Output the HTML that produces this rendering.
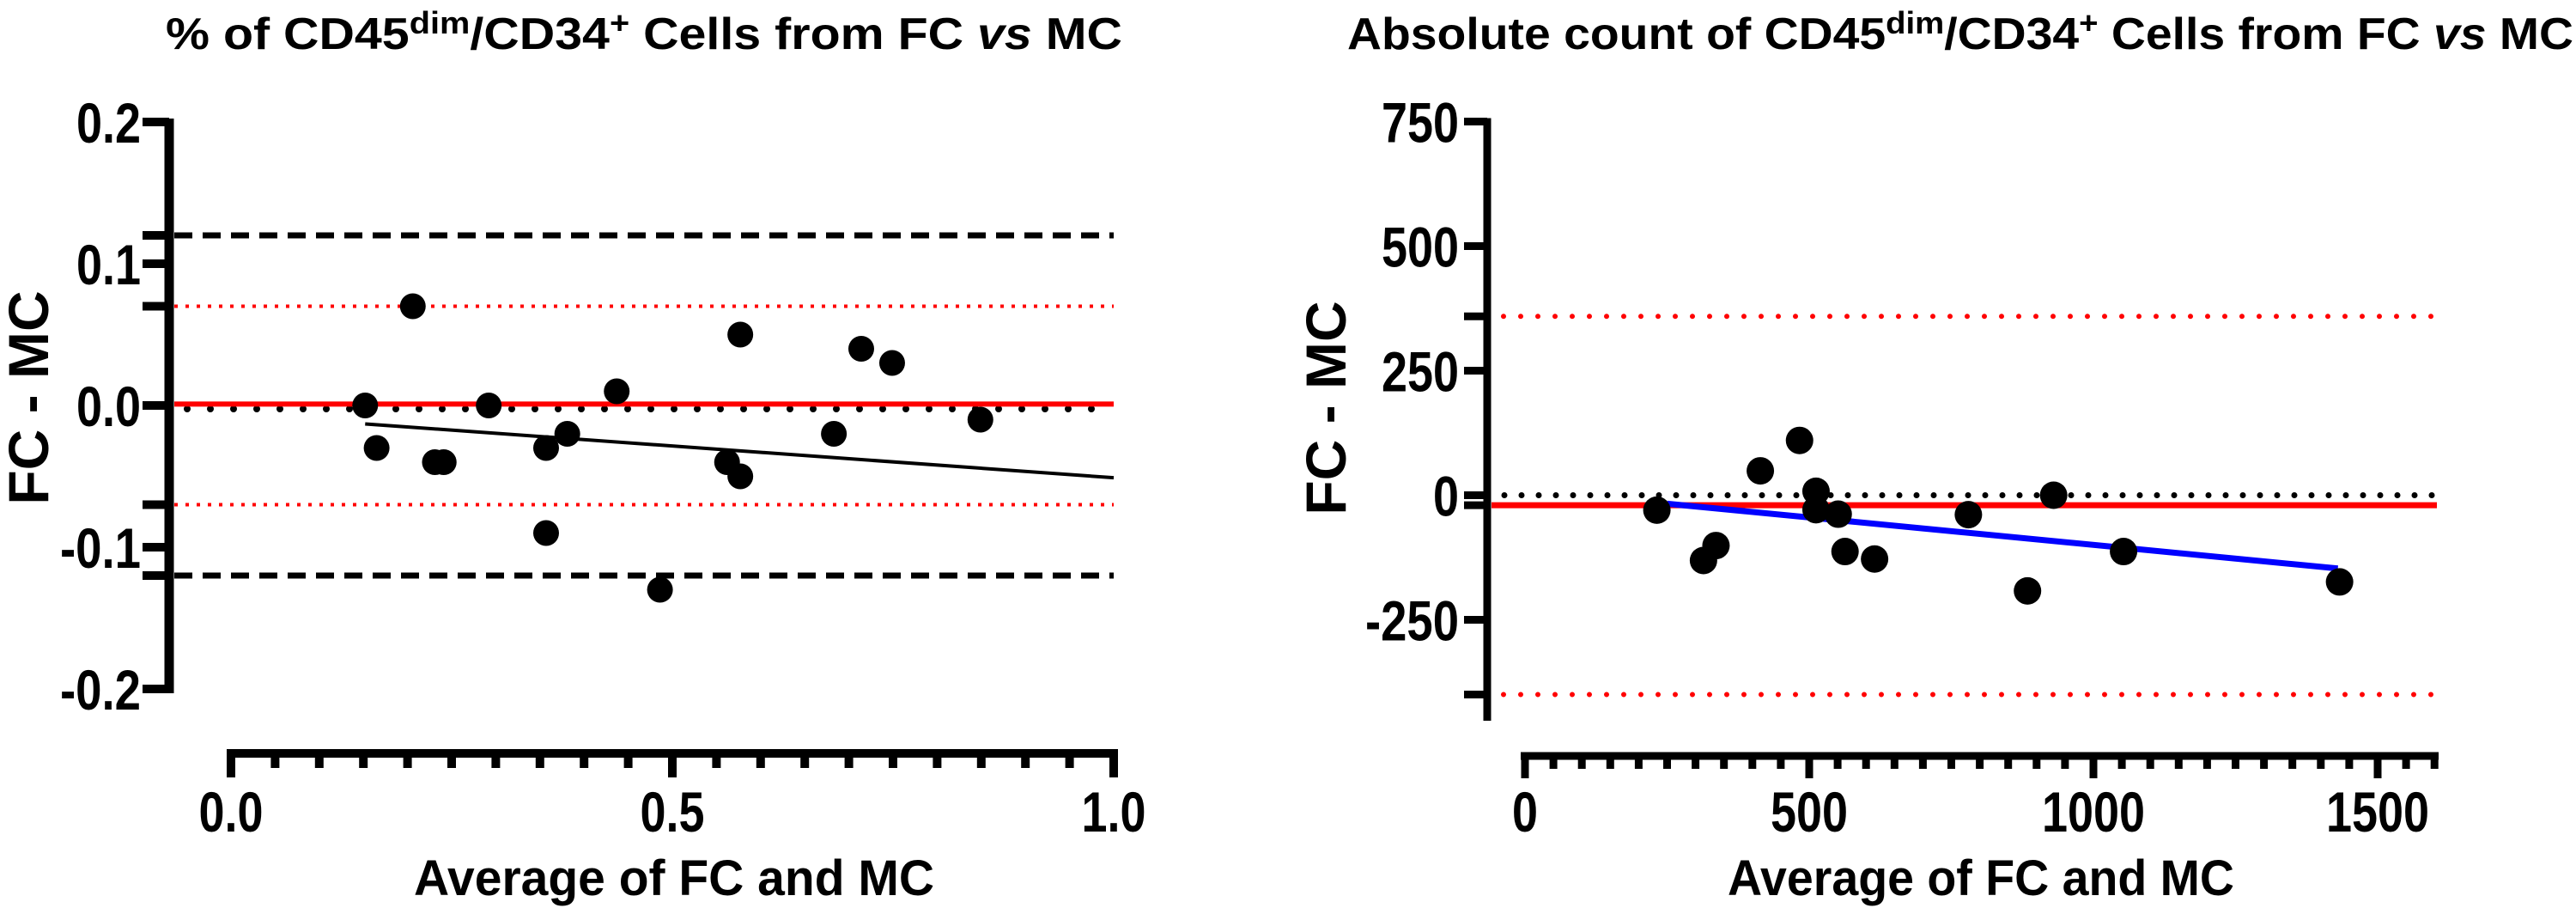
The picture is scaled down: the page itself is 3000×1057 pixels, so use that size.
<!DOCTYPE html>
<html><head><meta charset="utf-8"><style>
html,body{margin:0;padding:0;background:#fff;}
svg{display:block;font-family:"Liberation Sans",Arial,sans-serif;font-weight:bold;}
</style></head><body>
<svg id="svg" width="3000" height="1057" viewBox="0 0 3000 1057" xmlns="http://www.w3.org/2000/svg">
<text x="193" y="57" font-size="52" textLength="1114" lengthAdjust="spacingAndGlyphs">% of CD45<tspan dy="-18" font-size="36">dim</tspan><tspan dy="18">/CD34</tspan><tspan dy="-18" font-size="36">+</tspan><tspan dy="18"> Cells from FC </tspan><tspan font-style="italic">vs</tspan> MC</text>
<text x="1569" y="57" font-size="52" textLength="1428" lengthAdjust="spacingAndGlyphs">Absolute count of CD45<tspan dy="-18" font-size="36">dim</tspan><tspan dy="18">/CD34</tspan><tspan dy="-18" font-size="36">+</tspan><tspan dy="18"> Cells from FC </tspan><tspan font-style="italic">vs</tspan> MC</text>
<text x="785" y="1042" font-size="58" text-anchor="middle" textLength="606" lengthAdjust="spacingAndGlyphs">Average of FC and MC</text>
<text x="2307" y="1042" font-size="58" text-anchor="middle" textLength="590" lengthAdjust="spacingAndGlyphs">Average of FC and MC</text>
<text transform="translate(56,463) rotate(-90)" font-size="66" text-anchor="middle">FC - MC</text>
<text transform="translate(1567,475) rotate(-90)" font-size="66" text-anchor="middle">FC - MC</text>
<g id="left"></g>
<g id="right"></g>
</svg>
<script>
// Left chart data (% of cells)
const leftX = [0.152,0.165,0.206,0.231,0.241,0.292,0.357,0.357,0.381,0.437,0.486,0.562,0.577,0.577,0.683,0.714,0.749,0.849];
const leftY = [0,-0.03,0.07,-0.04,-0.04,0,-0.03,-0.09,-0.02,0.01,-0.13,-0.04,0.05,-0.05,-0.02,0.04,0.03,-0.01];
const leftBias = 0.001;
const leftLoA = [0.07,-0.07];
const leftOuter = [0.12,-0.12];
const leftReg = [[0.152,-0.013],[1.0,-0.051]];
const leftYTicks = [0.2,0.1,0,-0.1,-0.2];
const leftYTickLabels = ["0.2","0.1","0.0","-0.1","-0.2"];
const leftXTicks = [0,0.5,1.0];
const leftXTickLabels = ["0.0","0.5","1.0"];
// Right chart data (absolute count)
const rightX = [232,314,336,414,483,512,512,551,563,615,780,884,930,1053,1433];
const rightY = [-30,-131,-101,49,110,8,-29,-38,-113,-128,-39,-192,0,-113,-174];
const rightBias = -20;
const rightLoA = [359,-400];
const rightReg = [[250,-17],[1430,-147]];
const rightYTicks = [750,500,250,0,-250];
const rightYTickLabels = ["750","500","250","0","-250"];
const rightXTicks = [0,500,1000,1500];
const rightXTickLabels = ["0","500","1000","1500"];

const NS="http://www.w3.org/2000/svg";
function mk(parent,tag,attrs){const e=document.createElementNS(NS,tag);for(const k in attrs)e.setAttribute(k,attrs[k]);parent.appendChild(e);return e;}
function lw(s){let w=0;for(const c of s){w+= c==='.'?15:(c==='-'?19:30);}return w;}

// ---------- LEFT ----------
const L=document.getElementById('left');
const lx=v=>269+v*1028, ly=v=>472-v*1650;
let e;
e=mk(L,'line',{x1:197,y1:ly(0.2)-4,x2:197,y2:ly(-0.2)+5,stroke:'#000','stroke-width':11});


const lExtra=[0.12,0.07,-0.07,-0.12];
leftYTicks.concat(lExtra).forEach(v=>{const t=mk(L,'line',{x1:166,y1:ly(v),x2:197,y2:ly(v),stroke:'#000','stroke-width':10});

});
leftYTicks.forEach((v,i)=>{const s=leftYTickLabels[i];const t=mk(L,'text',{x:164,y:ly(v)+24,'font-size':66,'text-anchor':'end',textLength:lw(s),lengthAdjust:'spacingAndGlyphs'});t.textContent=s;

});
e=mk(L,'line',{x1:264,y1:877,x2:1302,y2:877,stroke:'#000','stroke-width':10});


for(let k=0;k<=20;k++){const v=k*0.05;const major=k%10===0;const t=mk(L,'line',{x1:lx(v),y1:877,x2:lx(v),y2:major?905:894,stroke:'#000','stroke-width':10});

}
leftXTicks.forEach((v,i)=>{const s=leftXTickLabels[i];const t=mk(L,'text',{x:lx(v),y:968,'font-size':66,'text-anchor':'middle',textLength:lw(s),lengthAdjust:'spacingAndGlyphs'});t.textContent=s;

});
const lx0=203, lx1=lx(1.0);
leftOuter.forEach(v=>{const t=mk(L,'line',{x1:lx0,y1:ly(v),x2:lx1,y2:ly(v),stroke:'#000','stroke-width':7,'stroke-dasharray':'21 12'});

});
leftLoA.forEach(v=>{const t=mk(L,'line',{x1:lx0,y1:ly(v),x2:lx1,y2:ly(v),stroke:'#f00','stroke-width':4,'stroke-dasharray':'4 9'});

});
e=mk(L,'line',{x1:lx0+15,y1:ly(0)+4,x2:lx1,y2:ly(0)+4,stroke:'#000','stroke-width':8,'stroke-dasharray':'0 27','stroke-linecap':'round'});


e=mk(L,'line',{x1:lx0,y1:ly(leftBias),x2:lx1,y2:ly(leftBias),stroke:'#f00','stroke-width':6});


e=mk(L,'line',{x1:lx(leftReg[0][0]),y1:ly(leftReg[0][1]),x2:lx(leftReg[1][0]),y2:ly(leftReg[1][1]),stroke:'#000','stroke-width':4});


leftX.forEach((v,i)=>{const c=mk(L,'circle',{cx:lx(v),cy:ly(leftY[i]),r:15,fill:'#000'});

});

// ---------- RIGHT ----------
const R=document.getElementById('right');
const rx=v=>1776+v*0.662, ry=v=>576.5-v*0.58;
e=mk(R,'line',{x1:1732,y1:ry(750)-4,x2:1732,y2:839,stroke:'#000','stroke-width':9});


const rExtra=[359,-20,-400];
rightYTicks.concat(rExtra).forEach(v=>{const t=mk(R,'line',{x1:1705,y1:ry(v),x2:1732,y2:ry(v),stroke:'#000','stroke-width':9});

});
rightYTicks.forEach((v,i)=>{const s=rightYTickLabels[i];const t=mk(R,'text',{x:1699,y:ry(v)+24,'font-size':66,'text-anchor':'end',textLength:lw(s),lengthAdjust:'spacingAndGlyphs'});t.textContent=s;

});
e=mk(R,'line',{x1:1771,y1:880,x2:2840,y2:880,stroke:'#000','stroke-width':9});


for(let k=0;k<=32;k++){const v=k*50;const major=k%10===0;const t=mk(R,'line',{x1:rx(v),y1:880,x2:rx(v),y2:major?906:895,stroke:'#000','stroke-width':9});

}
rightXTicks.forEach((v,i)=>{const s=rightXTickLabels[i];const t=mk(R,'text',{x:rx(v),y:968,'font-size':66,'text-anchor':'middle',textLength:lw(s),lengthAdjust:'spacingAndGlyphs'});t.textContent=s;

});
const rx0=1737, rx1=2838;
rightLoA.forEach(v=>{const t=mk(R,'line',{x1:rx0+14,y1:ry(v),x2:rx1,y2:ry(v),stroke:'#f00','stroke-width':6,'stroke-dasharray':'0 20','stroke-linecap':'round'});

});
e=mk(R,'line',{x1:rx0+15,y1:ry(0),x2:rx1,y2:ry(0),stroke:'#000','stroke-width':7,'stroke-dasharray':'0 20','stroke-linecap':'round'});


e=mk(R,'line',{x1:rx0,y1:ry(rightBias),x2:rx1,y2:ry(rightBias),stroke:'#f00','stroke-width':7});


e=mk(R,'line',{x1:rx(rightReg[0][0]),y1:ry(rightReg[0][1]),x2:rx(rightReg[1][0]),y2:ry(rightReg[1][1]),stroke:'#00f','stroke-width':7});


rightX.forEach((v,i)=>{const c=mk(R,'circle',{cx:rx(v),cy:ry(rightY[i]),r:16,fill:'#000'});

});
</script>
</body></html>
